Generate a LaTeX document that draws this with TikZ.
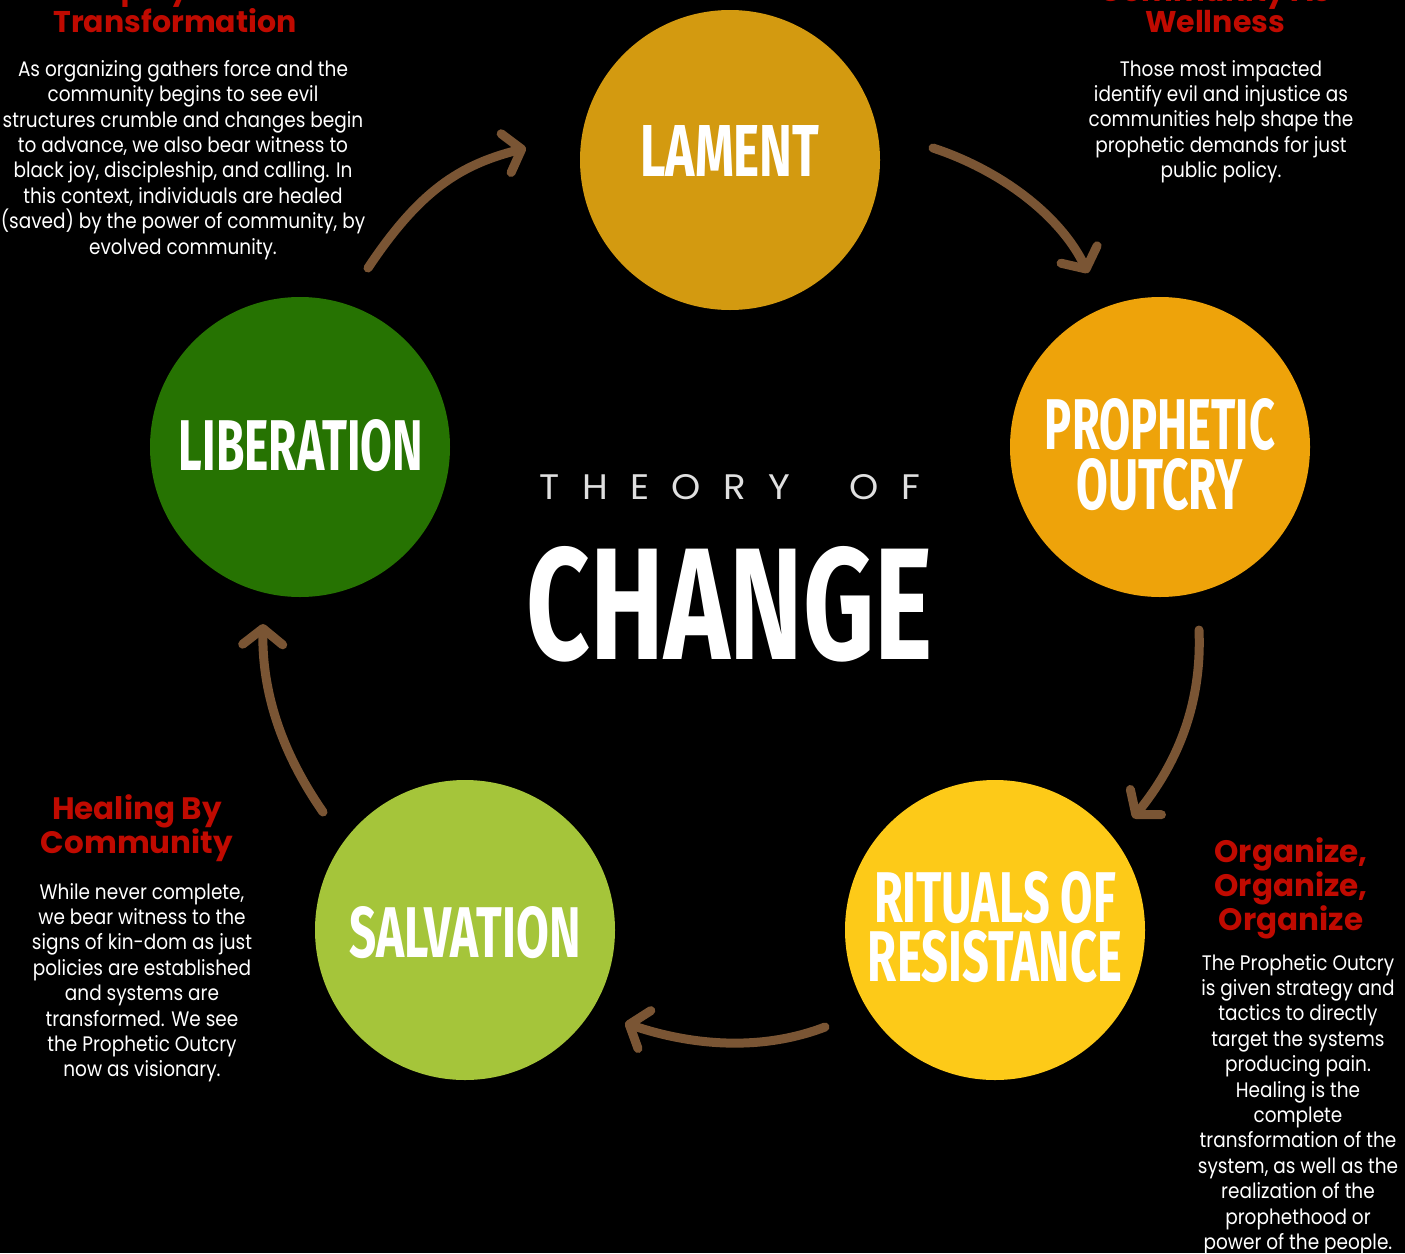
\documentclass[tikz,border=0pt]{standalone}
\usepackage{fontspec}
\usepackage{graphicx}
\usetikzlibrary{arrows.meta}
\setmainfont{Poppins}
\newfontfamily\bodyf[FakeStretch=0.88]{Poppins}
\newfontfamily\headf{Poppins}
\newfontfamily\condf{Fira Sans}
\newfontfamily\spacedf[LetterSpace=60]{Poppins}
\definecolor{lamentc}{HTML}{D39A10}
\definecolor{prophc}{HTML}{EEA30A}
\definecolor{ritualc}{HTML}{FDCA18}
\definecolor{salvc}{HTML}{A5C53A}
\definecolor{libc}{HTML}{267302}
\definecolor{arrowc}{HTML}{7A5534}
\definecolor{headred}{HTML}{C00A00}
\newcommand\fitlbl[2]{\resizebox{#1pt}{51pt}{\condf\bfseries #2}}
\begin{document}
\begin{tikzpicture}[x=1pt,y=-1pt,
  circ/.style={circle, minimum size=300pt, inner sep=0pt},
  lbl/.style={text=white, inner sep=0pt, align=center},
  body/.style={text=white, inner sep=0pt, align=center, anchor=north, font=\bodyf\fontsize{21}{25.4}\selectfont},
  headtop/.style={text=headred, inner sep=0pt, align=center, anchor=south, font=\headf\bfseries\fontsize{30}{31}\selectfont},
  headbot/.style={text=headred, inner sep=0pt, align=center, anchor=north, font=\headf\bfseries\fontsize{31}{32.3}\selectfont},
  arr/.style={draw=arrowc, line width=9pt, line cap=round,
    -{Straight Barb[length=16pt, width=40pt, line cap=round, line join=round]}}]
\useasboundingbox (0,0) rectangle (1405,1253);
\fill[black] (0,0) rectangle (1405,1253);
\begin{scope}
\clip (0,0) rectangle (1405,1253);
% circles
\node[circ, fill=lamentc] (lament) at (730,160) {};
\node[circ, fill=prophc] (outcry) at (1160,447) {};
\node[circ, fill=ritualc] (rituals) at (995,930) {};
\node[circ, fill=salvc] (salvation) at (465,930) {};
\node[circ, fill=libc] (liberation) at (300,447) {};
% circle labels
\node[lbl] (lamentl) at (730,151) {\fitlbl{179}{LAMENT}};
\node[lbl] (outcryl1) at (1160,425) {\fitlbl{230}{PROPHETIC}};
\node[lbl] (outcryl2) at (1160,485) {\fitlbl{166}{OUTCRY}};
\node[lbl] (ritualsl1) at (995,898) {\fitlbl{242}{RITUALS OF}};
\node[lbl] (ritualsl2) at (995,957) {\fitlbl{254}{RESISTANCE}};
\node[lbl] (salvationl) at (465,933) {\fitlbl{231}{SALVATION}};
\node[lbl] (liberationl) at (301,446) {\fitlbl{244}{LIBERATION}};
% title
\node[text=white!88!black, inner sep=0pt] (theory) at (730,487) {\resizebox{380pt}{25pt}{\spacedf THEORY\hspace{1.6em}OF}};
\node[text=white, inner sep=0pt] (change) at (730,604) {\resizebox{406pt}{113pt}{\condf\bfseries CHANGE}};
% arrows
\coordinate (a1s) at (368,268); \coordinate (a1e) at (526,148);
\coordinate (a2s) at (933,148); \coordinate (a2e) at (1088,273);
\coordinate (a3s) at (1199,630); \coordinate (a3e) at (1133,818);
\coordinate (a4s) at (825,1027); \coordinate (a4e) at (625,1023);
\coordinate (a5s) at (323,812); \coordinate (a5e) at (263,624);
\draw[arr] (a1s) .. controls (420,190) and (460,165) .. (a1e);
\draw[arr] (a2s) .. controls (1000,170) and (1060,215) .. (a2e);
\draw[arr] (a3s) .. controls (1202,700) and (1180,760) .. (a3e);
\draw[arr] (a4s) .. controls (760,1052) and (690,1045) .. (a4e);
\draw[arr] (a5s) .. controls (280,750) and (262,690) .. (a5e);
% headings
\node[headtop] (h1) at (175,33) {Equity and\\Transformation};
\node[headtop] (h2) at (1215,33) {Community As\\Wellness};
\node[headbot] (h3) at (137,794) {Healing By\\Community};
\node[headbot] (h4) at (1291,837) {Organize,\\Organize,\\Organize};
% bodies
\node[body] (b1) at (183,60) {As organizing gathers force and the\\community begins to see evil\\structures crumble and changes begin\\to advance, we also bear witness to\\black joy, discipleship, and calling. In\\this context, individuals are healed\\(saved) by the power of community, by\\evolved community.};
\node[body] (b2) at (1221,60) {Those most impacted\\identify evil and injustice as\\communities help shape the\\prophetic demands for just\\public policy.};
\node[body] (b3) at (142,883) {While never complete,\\we bear witness to the\\signs of kin-dom as just\\policies are established\\and systems are\\transformed. We see\\the Prophetic Outcry\\now as visionary.};
\node[body] (b4) at (1298,954) {The Prophetic Outcry\\is given strategy and\\tactics to directly\\target the systems\\producing pain.\\Healing is the\\complete\\transformation of the\\system, as well as the\\realization of the\\prophethood or\\power of the people.};
\end{scope}
\end{tikzpicture}
\end{document}
